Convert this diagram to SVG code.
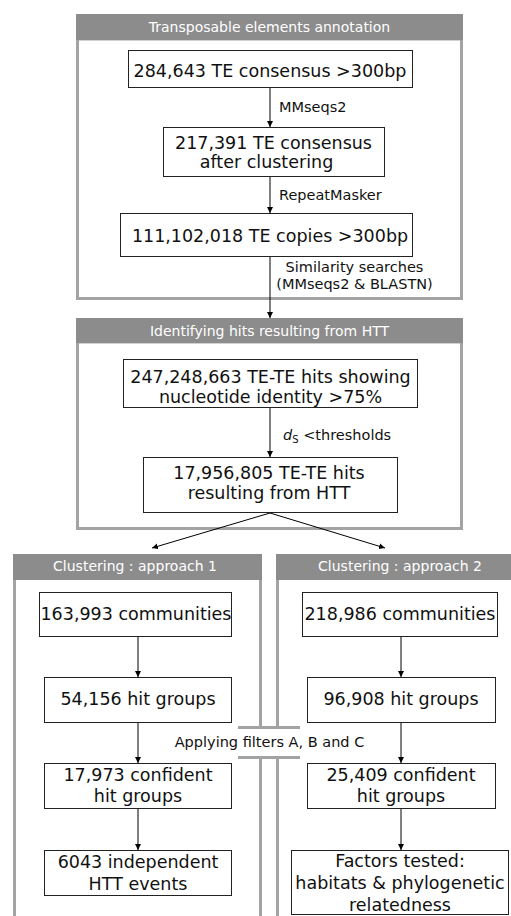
<svg xmlns="http://www.w3.org/2000/svg" width="511" height="916" viewBox="0 0 511 916">
<defs>
<marker id="ah" markerUnits="userSpaceOnUse" markerWidth="7" markerHeight="7" refX="6" refY="3" orient="auto">
<path d="M0,0 L6,3 L0,6 z" fill="#000"/>
</marker>
<style>
text{font-family:"DejaVu Sans",Verdana,"Liberation Sans",sans-serif;}
.hd{fill:#8c8c8c;}
.hdt{fill:#ffffff;font-size:14px;text-anchor:middle;}
.fr{fill:none;stroke:#a3a3a3;stroke-width:3;}
.bx{fill:#fff;stroke:#222;stroke-width:1;}
.bt{fill:#111;font-size:17.5px;text-anchor:middle;}
.lb{fill:#111;font-size:14.5px;}
.cn{fill:none;stroke:#000;stroke-width:1;marker-end:url(#ah);}
</style>
</defs>
<rect width="511" height="916" fill="#fff"/>

<g id="panel-te-annotation">
<rect class="fr" x="77.5" y="39" width="384" height="259.5"/>
<rect class="hd" x="76" y="14" width="387" height="26"/>
<text class="hdt" x="269.5" y="31.5">Transposable elements annotation</text>
</g>

<g id="panel-htt-hits">
<rect class="fr" x="77.5" y="342" width="384" height="186.5"/>
<rect class="hd" x="76" y="318" width="387" height="25"/>
<text class="hdt" x="269.5" y="335.5">Identifying hits resulting from HTT</text>
</g>

<g id="panel-approach1">
<line class="fr" x1="14.5" y1="580" x2="14.5" y2="916"/>
<polyline class="fr" points="260.5,580 260.5,727.5 238,727.5"/>
<polyline class="fr" points="238,757.5 260.5,757.5 260.5,916"/>
<rect class="hd" x="13" y="554" width="249" height="26"/>
<text class="hdt" x="135" y="571">Clustering : approach 1</text>
</g>

<g id="panel-approach2">
<polyline class="fr" points="277.5,580 277.5,727.5 300,727.5"/>
<polyline class="fr" points="300,757.5 277.5,757.5 277.5,916"/>
<rect class="hd" x="276" y="554" width="235" height="26"/>
<text class="hdt" x="400" y="571">Clustering : approach 2</text>
</g>

<g id="n1">
<rect class="bx" x="128.5" y="50.5" width="284" height="37"/>
<text class="bt" x="270" y="76.5">284,643 TE consensus &gt;300bp</text>
</g>
<g id="n2">
<rect class="bx" x="163.5" y="127.5" width="221" height="49"/>
<text class="bt" x="273.5" y="148.5">217,391 TE consensus</text>
<text class="bt" x="266.5" y="168">after clustering</text>
</g>
<g id="n3">
<rect class="bx" x="120.5" y="213.5" width="292" height="43"/>
<text class="bt" x="270" y="242">111,102,018 TE copies &gt;300bp</text>
</g>
<g id="n4">
<rect class="bx" x="123.5" y="359.5" width="294" height="48"/>
<text class="bt" x="270.5" y="382.5">247,248,663 TE-TE hits showing</text>
<text class="bt" x="270.5" y="402.5">nucleotide identity &gt;75%</text>
</g>
<g id="n5">
<rect class="bx" x="143.5" y="457.5" width="254" height="55"/>
<text class="bt" x="269" y="478.5">17,956,805 TE-TE hits</text>
<text class="bt" x="269" y="499">resulting from HTT</text>
</g>

<g id="n6">
<rect class="bx" x="39.5" y="592.5" width="192" height="44"/>
<text class="bt" x="136" y="620">163,993 communities</text>
</g>
<g id="n7">
<rect class="bx" x="44.5" y="677.5" width="187" height="45"/>
<text class="bt" x="138" y="705">54,156 hit groups</text>
</g>
<g id="n8">
<rect class="bx" x="44.5" y="763.5" width="187" height="45"/>
<text class="bt" x="138" y="781">17,973 confident</text>
<text class="bt" x="138" y="801.5">hit groups</text>
</g>
<g id="n9">
<rect class="bx" x="44.5" y="850.5" width="187" height="45"/>
<text class="bt" x="138" y="868">6043 independent</text>
<text class="bt" x="138" y="890">HTT events</text>
</g>

<g id="n10">
<rect class="bx" x="302.5" y="592.5" width="195" height="44"/>
<text class="bt" x="400" y="620">218,986 communities</text>
</g>
<g id="n11">
<rect class="bx" x="307.5" y="677.5" width="188" height="45"/>
<text class="bt" x="401" y="705">96,908 hit groups</text>
</g>
<g id="n12">
<rect class="bx" x="307.5" y="763.5" width="188" height="45"/>
<text class="bt" x="401" y="781">25,409 confident</text>
<text class="bt" x="401" y="801.5">hit groups</text>
</g>
<g id="n13">
<rect class="bx" x="291.5" y="850.5" width="217" height="64"/>
<text class="bt" x="400" y="867">Factors tested:</text>
<text class="bt" x="400" y="889">habitats &amp; phylogenetic</text>
<text class="bt" x="400" y="911">relatedness</text>
</g>

<g id="connectors">
<line class="cn" x1="270" y1="88" x2="270" y2="127"/>
<line class="cn" x1="270" y1="177" x2="270" y2="213"/>
<line class="cn" x1="270" y1="257" x2="270" y2="318"/>
<line class="cn" x1="270" y1="408" x2="270" y2="457"/>
<line class="cn" x1="270" y1="513" x2="152" y2="548"/>
<line class="cn" x1="270" y1="513" x2="385" y2="548"/>
<line class="cn" x1="138" y1="637" x2="138" y2="677"/>
<line class="cn" x1="138" y1="723" x2="138" y2="763"/>
<line class="cn" x1="138" y1="809" x2="138" y2="850"/>
<line class="cn" x1="401" y1="637" x2="401" y2="677"/>
<line class="cn" x1="401" y1="723" x2="401" y2="763"/>
<line class="cn" x1="401" y1="809" x2="401" y2="850"/>
<line x1="238" y1="727.5" x2="300" y2="727.5" stroke="#a3a3a3" stroke-width="3"/>
<line x1="238" y1="757.5" x2="300" y2="757.5" stroke="#a3a3a3" stroke-width="3"/>
</g>

<g id="labels">
<text class="lb" x="279" y="112">MMseqs2</text>
<text class="lb" x="279" y="200">RepeatMasker</text>
<text class="lb" x="354.5" y="272" text-anchor="middle">Similarity searches</text>
<text class="lb" x="354.5" y="289" text-anchor="middle">(MMseqs2 &amp; BLASTN)</text>
<text class="lb" x="283" y="440"><tspan font-style="italic">d</tspan><tspan font-size="10" dy="3">S</tspan><tspan dy="-3"> &lt;thresholds</tspan></text>
<text class="lb" x="269.5" y="747" text-anchor="middle">Applying filters A, B and C</text>
</g>
</svg>
